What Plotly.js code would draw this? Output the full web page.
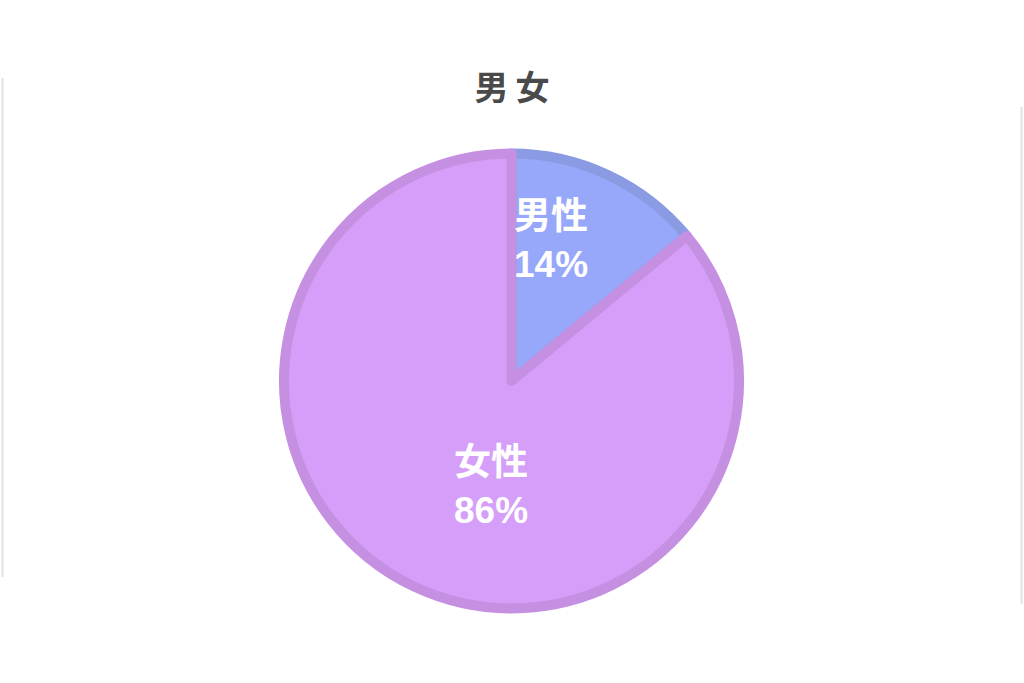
<!DOCTYPE html>
<html>
<head>
<meta charset="utf-8">
<script src="https://cdn.plot.ly/plotly-3.0.1.min.js"></script>
<style>html,body{margin:0;padding:0;background:#fff;}#chart{width:1024px;height:683px;}</style>
</head>
<body>
<div id="chart"></div>
<script>
const chartTitle = "男\u2009女";
const labels = ["男性", "女性"];
const values = [14, 86];
const fillColors = ["#97a8fb", "#d59ff9"];
const lineColors = ["#8a9be4", "#c58fe2"];
// label anchor points (paper coords) for the slice labels
const labelPos = [[551 / 1024, 1 - 241 / 683], [491 / 1024, 1 - 486 / 683]];

const total = values.reduce((a, b) => a + b, 0);

const trace = {
  type: "pie",
  labels: labels,
  values: values,
  sort: false,
  direction: "clockwise",
  rotation: 0,
  marker: { colors: fillColors, line: { color: lineColors, width: 10 } },
  textinfo: "none",
  hoverinfo: "none",
  showlegend: false,
  domain: { x: [284 / 1024, 739 / 1024], y: [74.5 / 683, 529.5 / 683] }
};

const annotations = labels.map((lab, i) => ({
  xref: "paper", yref: "paper",
  x: labelPos[i][0], y: labelPos[i][1],
  xanchor: "center", yanchor: "middle",
  showarrow: false,
  align: "left",
  text: "<b>" + lab + "<br>" + Math.round(values[i] / total * 100) + "%</b>",
  font: { family: "Liberation Sans, Noto Sans CJK JP, sans-serif", size: 37, color: "#ffffff" }
}));

const layout = {
  width: 1024,
  height: 683,
  margin: { l: 0, r: 0, t: 0, b: 0 },
  paper_bgcolor: "#ffffff",
  plot_bgcolor: "#ffffff",
  showlegend: false,
  title: {
    text: "<b>" + chartTitle + "</b>",
    x: 0.5,
    xanchor: "center",
    y: 1 - 88 / 683,
    yanchor: "middle",
    font: { family: "Noto Sans CJK JP, sans-serif", size: 34, color: "#4a4a4a" }
  },
  annotations: annotations,
  shapes: [
    { type: "line", xref: "paper", yref: "paper", x0: 2.5 / 1024, x1: 2.5 / 1024, y0: 1 - 78 / 683, y1: 1 - 577 / 683, line: { color: "#e2e2e2", width: 2 } },
    { type: "line", xref: "paper", yref: "paper", x0: 1021.5 / 1024, x1: 1021.5 / 1024, y0: 1 - 107 / 683, y1: 1 - 604 / 683, line: { color: "#e2e2e2", width: 2 } }
  ]
};

Plotly.newPlot("chart", [trace], layout, { displayModeBar: false, staticPlot: true });
</script>
</body>
</html>
